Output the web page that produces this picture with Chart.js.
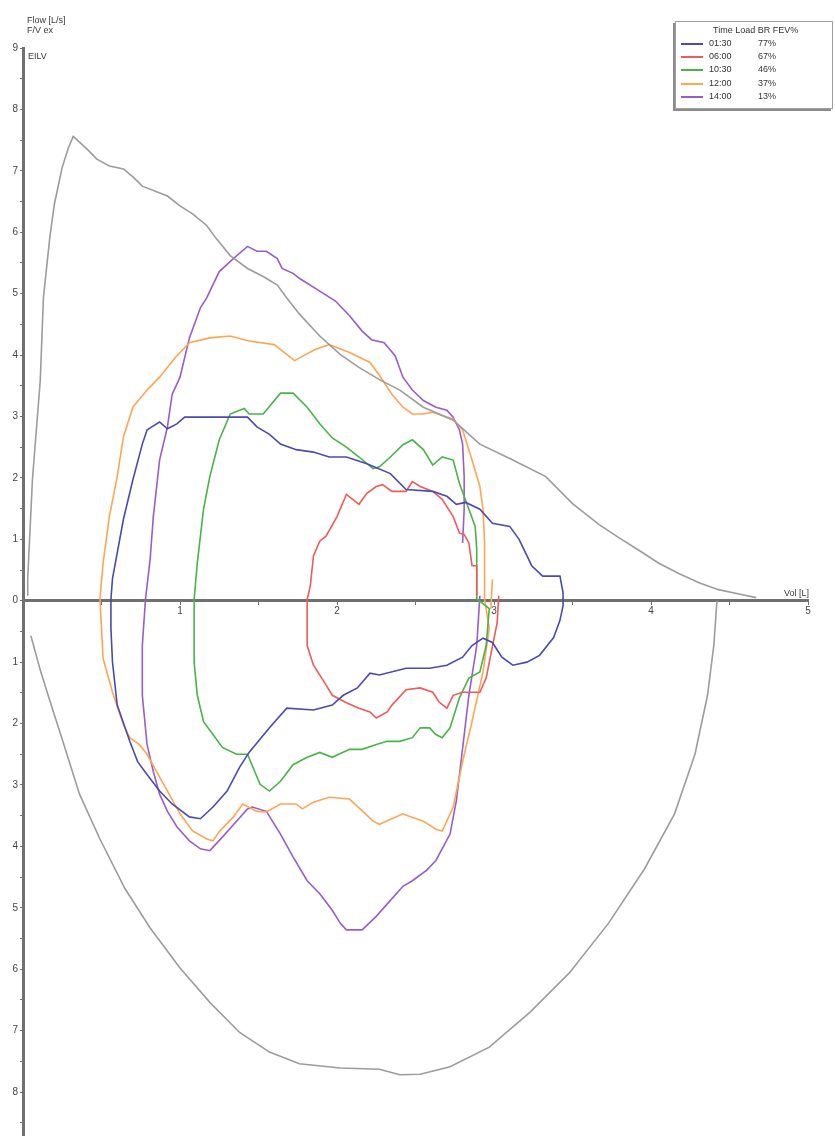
<!DOCTYPE html>
<html>
<head>
<meta charset="utf-8">
<script src="https://cdn.jsdelivr.net/npm/chart.js@4.4.0/dist/chart.umd.min.js"></script>
<style>
	body { margin: 0; background: #fff; }
	#wrap { position: relative; width: 835px; height: 1143px; }
	#legend {
		position: absolute; left: 675px; top: 21px; width: 156px; height: 86px;
		border: 1px solid #a0a0a0; box-shadow: -2px 2px 0 #8c8c8c; background: #fff;
		font: 9px "Liberation Sans", Arial, sans-serif; color: #333;
	}
	#legend .head { position: absolute; left: 37px; top: 3px; white-space: pre; }
	#legend .row { position: absolute; left: 0; height: 12px; width: 150px; }
	#legend .sw { position: absolute; left: 5px; top: 5px; width: 22px; height: 2px; }
	#legend .t { position: absolute; left: 33px; top: 0; }
	#legend .p { position: absolute; left: 82px; top: 0; }
</style>
</head>
<body>
<div id="wrap">
	<canvas id="chart"></canvas>
	<div id="legend"><div class="head">Time Load BR FEV%</div></div>
</div>
<script>
// volume [L] / flow [L/s] pairs, inspiration below zero, null = gap in the trace
const maxExp = [[0.03,0.08],[0.03,0.36],[0.06,1.97],[0.11,3.59],[0.13,4.93],[0.17,5.90],[0.20,6.46],[0.25,7.06],[0.29,7.38],[0.32,7.56],[0.41,7.35],[0.47,7.19],[0.55,7.08],[0.64,7.03],[0.70,6.90],[0.76,6.75],[0.92,6.59],[1.00,6.43],[1.08,6.30],[1.17,6.11],[1.23,5.90],[1.32,5.62],[1.43,5.41],[1.53,5.28],[1.62,5.14],[1.68,4.93],[1.76,4.67],[1.89,4.31],[2.02,4.01],[2.14,3.80],[2.27,3.60],[2.40,3.43],[2.55,3.15],[2.74,2.94],[2.91,2.55],[3.12,2.29],[3.33,2.02],[3.50,1.58],[3.67,1.24],[3.80,1.02],[3.93,0.81],[4.05,0.61],[4.18,0.44],[4.31,0.29],[4.43,0.18],[4.56,0.11],[4.67,0.05]];
const maxInsp = [[0.05,-0.57],[0.11,-1.13],[0.17,-1.62],[0.24,-2.18],[0.36,-3.15],[0.49,-3.88],[0.65,-4.69],[0.81,-5.33],[1.00,-5.98],[1.19,-6.54],[1.38,-7.03],[1.57,-7.35],[1.76,-7.54],[2.02,-7.61],[2.27,-7.63],[2.40,-7.72],[2.53,-7.71],[2.72,-7.59],[2.97,-7.27],[3.23,-6.70],[3.48,-6.06],[3.73,-5.25],[3.96,-4.36],[4.15,-3.47],[4.28,-2.50],[4.36,-1.54],[4.40,-0.73],[4.42,0]];

const loop0130 = [[0.56,0.02],[0.57,0.36],[0.64,1.33],[0.70,1.97],[0.76,2.55],[0.79,2.78],[0.82,2.83],[0.87,2.91],[0.92,2.80],[0.98,2.88],[1.03,2.99],[1.43,2.99],[1.49,2.83],[1.57,2.71],[1.64,2.55],[1.74,2.46],[1.85,2.42],[1.95,2.34],[2.06,2.34],[2.19,2.23],[2.34,2.07],[2.44,1.81],[2.61,1.78],[2.70,1.70],[2.76,1.57],[2.82,1.60],[2.91,1.49],[2.99,1.26],[3.10,1.21],[3.16,1.00],[3.24,0.57],[3.31,0.40],[3.42,0.40],[3.44,0.13],[3.44,-0.08],[3.42,-0.32],[3.38,-0.60],[3.29,-0.89],[3.21,-1.00],[3.12,-1.05],[3.05,-0.92],[2.99,-0.68],[2.93,-0.61],[2.86,-0.73],[2.80,-0.92],[2.70,-1.05],[2.59,-1.10],[2.44,-1.10],[2.27,-1.21],[2.21,-1.18],[2.13,-1.42],[2.04,-1.54],[1.97,-1.70],[1.85,-1.78],[1.68,-1.75],[1.57,-2.07],[1.44,-2.47],[1.38,-2.71],[1.30,-3.10],[1.21,-3.36],[1.13,-3.55],[1.06,-3.52],[0.95,-3.31],[0.87,-3.10],[0.79,-2.83],[0.73,-2.62],[0.68,-2.29],[0.60,-1.70],[0.57,-1.00],[0.56,-0.45],[0.56,0.02]];
const loop0600 = [[1.81,0.02],[1.83,0.24],[1.85,0.73],[1.89,0.97],[1.93,1.05],[2.00,1.37],[2.06,1.73],[2.10,1.65],[2.14,1.57],[2.19,1.75],[2.25,1.86],[2.29,1.89],[2.35,1.78],[2.44,1.78],[2.48,1.94],[2.53,1.86],[2.61,1.78],[2.67,1.65],[2.74,1.37],[2.78,1.10],[2.81,1.08],[2.84,0.94],[2.86,0.57],[2.89,0.57],[2.89,0.32],[2.89,0.08],null,[3.03,0.08],[3.02,-0.36],[2.95,-1.26],[2.91,-1.49],[2.80,-1.49],[2.74,-1.54],[2.70,-1.75],[2.65,-1.65],[2.61,-1.49],[2.53,-1.42],[2.44,-1.45],[2.35,-1.70],[2.32,-1.81],[2.25,-1.91],[2.21,-1.81],[2.14,-1.75],[2.06,-1.66],[1.97,-1.54],[1.93,-1.37],[1.85,-1.05],[1.81,-0.73],[1.81,0.02]];
const loop1030 = [[1.09,0.02],[1.11,0.61],[1.15,1.49],[1.19,2.02],[1.25,2.62],[1.32,3.04],[1.38,3.10],[1.41,3.13],[1.44,3.04],[1.53,3.04],[1.64,3.38],[1.72,3.38],[1.81,3.15],[1.89,2.88],[1.97,2.65],[2.06,2.50],[2.14,2.34],[2.23,2.15],[2.27,2.18],[2.34,2.34],[2.42,2.54],[2.48,2.62],[2.55,2.46],[2.61,2.21],[2.67,2.34],[2.74,2.29],[2.78,1.91],[2.84,1.49],[2.88,1.21],[2.89,0.84],[2.89,0.03],[2.97,-0.13],[2.95,-0.73],[2.91,-1.16],[2.84,-1.26],[2.78,-1.58],[2.72,-2.07],[2.67,-2.23],[2.63,-2.18],[2.59,-2.07],[2.53,-2.07],[2.48,-2.23],[2.40,-2.29],[2.32,-2.29],[2.25,-2.34],[2.16,-2.42],[2.08,-2.42],[1.97,-2.55],[1.89,-2.47],[1.81,-2.55],[1.72,-2.67],[1.64,-2.94],[1.57,-3.10],[1.51,-2.99],[1.43,-2.50],[1.36,-2.50],[1.27,-2.39],[1.21,-2.18],[1.15,-1.97],[1.11,-1.54],[1.09,-1.00],[1.09,0.02]];
const loop1200 = [[0.49,0.02],[0.51,0.61],[0.55,1.37],[0.60,2.02],[0.64,2.67],[0.70,3.15],[0.79,3.43],[0.87,3.64],[0.97,3.96],[1.06,4.20],[1.19,4.28],[1.32,4.31],[1.44,4.23],[1.60,4.17],[1.73,3.91],[1.86,4.09],[1.95,4.17],[2.08,4.04],[2.21,3.88],[2.27,3.67],[2.35,3.36],[2.42,3.15],[2.48,3.04],[2.55,3.04],[2.61,3.07],[2.70,2.99],[2.74,2.96],[2.80,2.78],[2.86,2.29],[2.91,1.86],[2.93,1.49],[2.94,0.94],[2.94,0.45],[2.94,0.02],[2.97,-0.45],[2.93,-1.16],[2.86,-1.97],[2.80,-2.62],[2.74,-3.36],[2.67,-3.75],[2.63,-3.72],[2.55,-3.59],[2.46,-3.51],[2.42,-3.47],[2.27,-3.64],[2.23,-3.59],[2.08,-3.23],[1.95,-3.20],[1.85,-3.28],[1.78,-3.39],[1.74,-3.31],[1.64,-3.31],[1.55,-3.44],[1.49,-3.43],[1.40,-3.31],[1.34,-3.52],[1.25,-3.76],[1.21,-3.91],[1.17,-3.88],[1.08,-3.75],[1.00,-3.47],[0.92,-3.10],[0.85,-2.78],[0.79,-2.50],[0.74,-2.34],[0.68,-2.23],[0.64,-2.02],[0.57,-1.49],[0.51,-0.94],[0.50,-0.45],[0.49,0.02],null,[2.99,0.35],[2.98,-0.13]];
const loop1400 = [[0.78,0.02],[0.81,0.68],[0.83,1.37],[0.87,2.29],[0.92,2.83],[0.95,3.36],[1.00,3.64],[1.06,4.28],[1.13,4.77],[1.17,4.93],[1.25,5.36],[1.34,5.57],[1.43,5.77],[1.49,5.69],[1.55,5.69],[1.62,5.57],[1.65,5.41],[1.72,5.33],[1.76,5.25],[1.89,5.04],[1.99,4.88],[2.08,4.64],[2.16,4.39],[2.22,4.25],[2.30,4.20],[2.37,3.99],[2.42,3.64],[2.48,3.43],[2.55,3.26],[2.63,3.15],[2.70,3.10],[2.74,2.99],[2.78,2.78],[2.80,2.55],[2.81,2.02],[2.81,1.49],[2.80,0.94],null,[2.91,0.08],[2.89,-0.73],[2.84,-1.54],[2.79,-2.62],[2.76,-3.26],[2.72,-3.80],[2.63,-4.23],[2.57,-4.39],[2.48,-4.56],[2.42,-4.65],[2.34,-4.88],[2.25,-5.14],[2.16,-5.36],[2.06,-5.36],[2.02,-5.25],[1.97,-5.04],[1.89,-4.77],[1.81,-4.56],[1.72,-4.17],[1.64,-3.80],[1.55,-3.43],[1.46,-3.36],[1.43,-3.39],[1.36,-3.59],[1.27,-3.85],[1.19,-4.07],[1.13,-4.04],[1.06,-3.91],[0.98,-3.68],[0.92,-3.43],[0.87,-3.15],[0.83,-2.78],[0.79,-2.34],[0.76,-1.54],[0.76,-0.73],[0.78,0.02]];

const legendTimes = ['01:30', '06:00', '10:30', '12:00', '14:00'];
const legendFev = ['77%', '67%', '46%', '37%', '13%'];
const loopColors = ['#4a4ab0', '#f05a5a', '#48b448', '#ffa552', '#9a5ccc'];
const loops = [loop0130, loop0600, loop1030, loop1200, loop1400];

const toPoints = arr => arr.map(p => p ? { x: p[0], y: p[1] } : { x: null, y: null });

// legend box as real text
let legendEl = document.getElementById('legend');
legendTimes.forEach((t, i) => {
	let row = document.createElement('div');
	row.className = 'row';
	row.style.top = (16 + i * 13.2) + 'px';
	row.innerHTML = `<span class="sw" style="background:${loopColors[i]}"></span><span class="t">${t}</span><span class="p">${legendFev[i]}</span>`;
	legendEl.appendChild(row);
});

// axis captions drawn on the canvas
let captions = {
	id: 'captions',
	afterDraw (chart) {
		let { ctx, chartArea, scales } = chart;
		ctx.save();
		ctx.fillStyle = '#3a3a3a';
		ctx.font = '9px "Liberation Sans", Arial, sans-serif';
		ctx.textBaseline = 'middle';
		ctx.textAlign = 'left';
		ctx.fillText('Flow [L/s]', 27, 21);
		ctx.fillText('F/V ex', 27, 31);
		ctx.fillText('EILV', 28, 57);
		ctx.textAlign = 'right';
		ctx.fillText('Vol [L]', chartArea.right + 1, scales.y.getPixelForValue(0) - 7);
		ctx.restore();
	},
};

let datasets = [
	{ label: 'max exp', data: toPoints(maxExp), borderColor: '#9c9c9c' },
	{ label: 'max insp', data: toPoints(maxInsp), borderColor: '#9c9c9c' },
];
loops.forEach((arr, i) => {
	datasets.push({ label: legendTimes[i], data: toPoints(arr), borderColor: loopColors[i] });
});

let tickFont = { size: 10, family: '"Liberation Sans", Arial, sans-serif' };

new Chart(document.getElementById('chart'), {
	type: 'scatter',
	data: { datasets },
	options: {
		responsive: true,
		maintainAspectRatio: false,
		animation: false,
		showLine: true,
		spanGaps: false,
		layout: { padding: { left: 0, top: 48, right: 27, bottom: 0 } },
		elements: {
			point: { radius: 0, hoverRadius: 0 },
			line: { borderWidth: 1.6, tension: 0, fill: false },
		},
		plugins: { legend: { display: false }, tooltip: { enabled: false } },
		scales: {
			x: {
				type: 'linear',
				min: 0,
				max: 5,
				position: { y: 0 },
				border: { display: true, color: '#707070', width: 3 },
				grid: { display: true, drawOnChartArea: false, drawTicks: true, tickLength: 3, color: '#707070' },
				ticks: {
					stepSize: 0.5,
					padding: 2,
					color: '#444',
					font: tickFont,
					maxRotation: 0,
					autoSkip: false,
					callback: v => (v > 0 && Number.isInteger(v)) ? String(v) : '',
				},
			},
			y: {
				type: 'linear',
				min: -8.7,
				max: 9,
				position: 'left',
				afterFit: scale => { scale.width = 23; },
				border: { display: true, color: '#707070', width: 3 },
				grid: { display: true, drawOnChartArea: false, drawTicks: true, tickLength: 3, color: '#707070' },
				ticks: {
					stepSize: 0.5,
					includeBounds: false,
					padding: 2,
					color: '#444',
					font: tickFont,
					autoSkip: false,
					callback: v => Number.isInteger(v) ? String(Math.abs(v)) : '',
				},
			},
		},
	},
	plugins: [ captions ],
});
</script>
</body>
</html>
